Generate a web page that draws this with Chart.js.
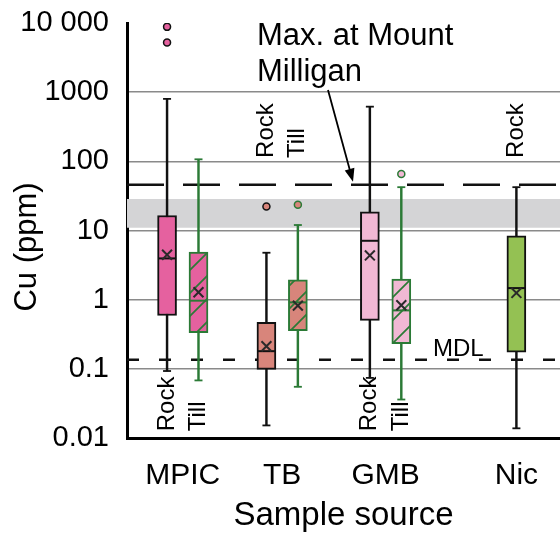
<!DOCTYPE html>
<html>
<head>
<meta charset="utf-8">
<script src="https://cdn.jsdelivr.net/npm/chart.js@4.4.0/dist/chart.umd.min.js"></script>
<style>
  html, body { margin: 0; padding: 0; background: #fff; overflow: hidden; }
  #wrap { width: 560px; height: 538px; }
  canvas { display: block; }
</style>
</head>
<body>
<div id="wrap"><canvas id="boxChart"></canvas></div>
<script>
// sample sources and where they sit on the x axis
const sources = ['MPIC', 'TB', 'GMB', 'Nic'];
const sourceX = [1, 1.98, 3, 4.29];

// one entry per box
const boxSource = [0, 0, 1, 1, 2, 2, 3];
const boxType = ['Rock', 'Till', 'Rock', 'Till', 'Rock', 'Till', 'Rock'];
const whiskerLow = [0.093, 0.068, 0.0152, 0.055, 0.074, 0.036, 0.0138];
const q1 = [0.59, 0.334, 0.098, 0.357, 0.503, 0.232, 0.174];
const median = [3.95, 0.967, 0.18, 0.914, 7.1, 0.70, 1.47];
const q3 = [16.5, 4.88, 0.47, 1.94, 18.6, 1.99, 8.4];
const whiskerHigh = [800, 107, 4.77, 12, 617, 42.3, 42.3];
const mean = [4.46, 1.28, 0.212, 0.82, 4.36, 0.83, 1.25];
const outliers = [[5230, 8790], [], [22.2], [23.5], [], [65.8], []];

// reference levels (ppm)
const yTicks = [0.01, 0.1, 1, 10, 100, 1000, 10000];
const maxMilligan = 46;
const mdl = 0.135;
const greyBand = [11, 28.5];

const xMin = 0.45, xMax = 4.72;
const sourceFill = ['#e5619f', '#d8857b', '#f1b8d4', '#94c153'];
const rockLine = '#111';
const tillLine = '#2b7a36';
const labelAbove = [false, true, false, true];

function hatch(fill) {
    const s = 23;
    const c = document.createElement('canvas');
    c.width = s; c.height = s;
    const g = c.getContext('2d');
    g.fillStyle = fill;
    g.fillRect(0, 0, s, s);
    g.strokeStyle = tillLine;
    g.lineWidth = 1.7;
    g.beginPath();
    g.moveTo(-2, s + 2); g.lineTo(s + 2, -2);
    g.moveTo(-2, 2); g.lineTo(2, -2);
    g.moveTo(s - 2, s + 2); g.lineTo(s + 2, s - 2);
    g.stroke();
    return g.createPattern(c, 'repeat');
}

const boxX = boxSource.map((s, i) => {
    const pair = boxSource.filter(v => v === s).length > 1;
    if (!pair) return sourceX[s];
    return sourceX[s] + (boxType[i] === 'Rock' ? -0.155 : 0.155);
});
const lineColor = boxType.map(t => t === 'Rock' ? rockLine : tillLine);
const boxFill = boxSource.map((s, i) => boxType[i] === 'Till' ? hatch(sourceFill[s]) : sourceFill[s]);

const capData = [], capColor = [];
boxX.forEach((x, i) => {
    capData.push({x, y: whiskerLow[i]}, {x, y: whiskerHigh[i]});
    capColor.push(lineColor[i], lineColor[i]);
});
const outData = [], outFill = [], outBorder = [];
outliers.forEach((vals, i) => vals.forEach(v => {
    outData.push({x: boxX[i], y: v});
    outFill.push(sourceFill[boxSource[i]]);
    outBorder.push(lineColor[i]);
}));

const annotations = {
    id: 'annotations',
    afterDraw(chart) {
        const {ctx} = chart;
        const y = chart.scales.y;
        const x = chart.scales.x;
        const font = '"Liberation Sans", Arial, sans-serif';
        ctx.save();
        ctx.fillStyle = '#000';

        // y axis title
        ctx.save();
        ctx.font = '31px ' + font;
        ctx.translate(27, 247);
        ctx.rotate(-Math.PI / 2);
        ctx.textAlign = 'center';
        ctx.textBaseline = 'middle';
        ctx.fillText('Cu (ppm)', 0, 0);
        ctx.restore();

        // Rock / Till labels
        ctx.font = '24px ' + font;
        boxX.forEach((bx, i) => {
            const above = labelAbove[boxSource[i]];
            const py = y.getPixelForValue(above ? 112 : 0.0125);
            ctx.save();
            ctx.translate(x.getPixelForValue(bx), py);
            ctx.rotate(-Math.PI / 2);
            ctx.textAlign = 'left';
            ctx.textBaseline = 'middle';
            ctx.fillText(boxType[i], 0, 0);
            ctx.restore();
        });

        // Mount Milligan note and arrow
        ctx.font = '31px ' + font;
        ctx.textAlign = 'left';
        ctx.textBaseline = 'alphabetic';
        ctx.fillText('Max. at Mount', 257, 45);
        ctx.fillText('Milligan', 257, 81);
        const tipY = y.getPixelForValue(maxMilligan) - 3;
        const x0 = 328, y0 = 90, x1 = 353;
        const ang = Math.atan2(tipY - y0, x1 - x0);
        ctx.strokeStyle = '#000';
        ctx.lineWidth = 1.8;
        ctx.beginPath();
        ctx.moveTo(x0, y0);
        ctx.lineTo(x1 - 10 * Math.cos(ang), tipY - 10 * Math.sin(ang));
        ctx.stroke();
        ctx.beginPath();
        ctx.moveTo(x1, tipY);
        ctx.lineTo(x1 - 13 * Math.cos(ang) + 5 * Math.sin(ang), tipY - 13 * Math.sin(ang) - 5 * Math.cos(ang));
        ctx.lineTo(x1 - 13 * Math.cos(ang) - 5 * Math.sin(ang), tipY - 13 * Math.sin(ang) + 5 * Math.cos(ang));
        ctx.closePath();
        ctx.fill();

        // MDL label
        ctx.font = '24px ' + font;
        ctx.fillText('MDL', 433, y.getPixelForValue(mdl) - 4);
        ctx.restore();
    }
};

Chart.defaults.font.family = '"Liberation Sans", Arial, sans-serif';
Chart.defaults.color = '#000';

new Chart(document.querySelector('#boxChart'), {
    type: 'bar',
    data: {
        datasets: [
            {
                type: 'line',
                data: [{x: xMin, y: greyBand[1]}, {x: xMax, y: greyBand[1]}],
                borderWidth: 0,
                pointRadius: 0,
                backgroundColor: '#d4d4d6',
                fill: {value: greyBand[0]},
                order: 10
            },
            {
                type: 'line',
                data: [{x: xMin, y: maxMilligan}, {x: xMax, y: maxMilligan}],
                borderColor: '#111',
                borderWidth: 2.5,
                borderDash: [37, 19],
                pointRadius: 0,
                order: 9
            },
            {
                type: 'line',
                data: [{x: xMin, y: mdl}, {x: xMax, y: mdl}],
                borderColor: '#111',
                borderWidth: 2.5,
                borderDash: [12, 20],
                pointRadius: 0,
                order: 9
            },
            {
                // whiskers
                data: boxX.map((x, i) => ({x, y: [whiskerLow[i], whiskerHigh[i]]})),
                backgroundColor: lineColor,
                borderWidth: 0,
                barThickness: 1.8,
                grouped: false,
                order: 8
            },
            {
                type: 'scatter',
                data: capData,
                pointStyle: 'line',
                radius: 4,
                borderWidth: 1.8,
                borderColor: capColor,
                order: 7
            },
            {
                // boxes
                data: boxX.map((x, i) => ({x, y: [q1[i], q3[i]]})),
                backgroundColor: boxFill,
                borderColor: lineColor,
                borderWidth: 2,
                borderSkipped: false,
                barThickness: 19,
                grouped: false,
                order: 6
            },
            {
                type: 'scatter',
                data: boxX.map((x, i) => ({x, y: median[i]})),
                pointStyle: 'line',
                radius: 9,
                borderWidth: 2,
                borderColor: lineColor,
                order: 5
            },
            {
                type: 'scatter',
                data: boxX.map((x, i) => ({x, y: mean[i]})),
                pointStyle: 'crossRot',
                radius: 7,
                borderWidth: 2,
                borderColor: '#2a2a2a',
                order: 4
            },
            {
                type: 'scatter',
                data: outData,
                pointStyle: 'circle',
                radius: 3.5,
                borderWidth: 1.5,
                backgroundColor: outFill,
                borderColor: outBorder,
                order: 3
            }
        ]
    },
    options: {
        responsive: true,
        maintainAspectRatio: false,
        animation: false,
        events: [],
        layout: {autoPadding: false, padding: {top: 23, right: 0, left: 0, bottom: 0}},
        plugins: {legend: {display: false}, tooltip: {enabled: false}},
        scales: {
            x: {
                type: 'linear',
                offset: false,
                min: xMin,
                max: xMax,
                afterBuildTicks: s => { s.ticks = sourceX.map(v => ({value: v})); },
                afterFit: s => { s.height = 100; s.paddingLeft = 0; s.paddingRight = 0; },
                ticks: {
                    callback: (v, i) => sources[i],
                    font: {size: 30},
                    padding: 20,
                    autoSkip: false,
                    maxRotation: 0
                },
                grid: {display: false, drawTicks: false},
                border: {display: true, width: 3, color: '#000'},
                title: {display: true, text: 'Sample source', font: {size: 33}, padding: {top: 0, bottom: 2}}
            },
            y: {
                type: 'logarithmic',
                min: 0.01,
                max: 10000,
                afterBuildTicks: s => { s.ticks = yTicks.map(v => ({value: v})); },
                afterFit: s => { s.width = 127; s.paddingTop = 0; s.paddingBottom = 0; },
                ticks: {
                    callback: v => v === 10000 ? '10 000' : String(v),
                    font: {size: 29},
                    padding: 18
                },
                grid: {
                    drawTicks: false,
                    lineWidth: 1.5,
                    color: c => (c.tick && c.tick.value > 0.01 && c.tick.value < 10000) ? '#8a8a8a' : 'rgba(0,0,0,0)'
                },
                border: {display: true, width: 3, color: '#000'}
            }
        }
    },
    plugins: [annotations]
});
</script>
</body>
</html>
